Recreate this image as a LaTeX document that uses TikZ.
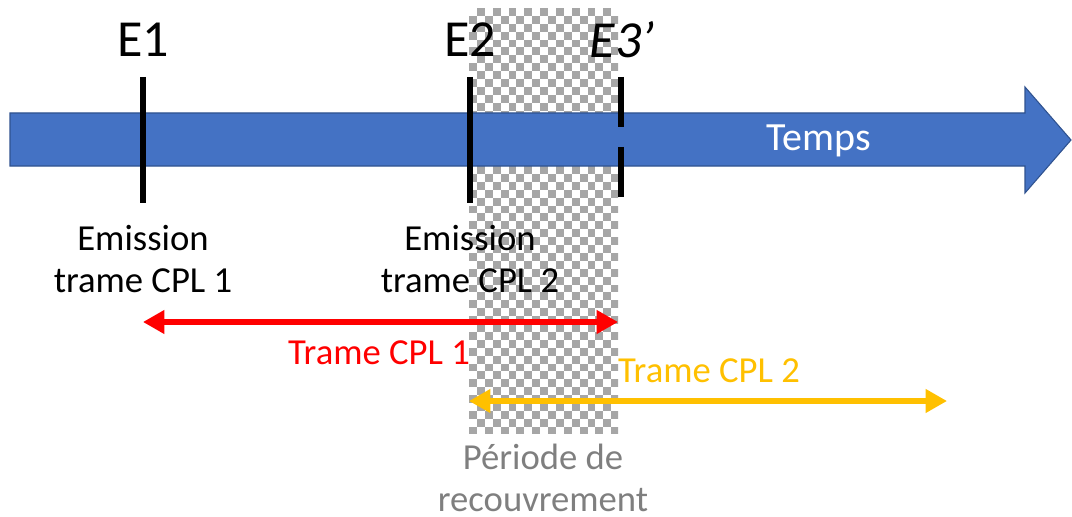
\documentclass[tikz,border=0pt]{standalone}
\usepackage{fontspec}
\setmainfont{Carlito}
\usepackage{tikz}
\usetikzlibrary{arrows.meta, positioning, calc}
\usepackage{xcolor}
\definecolor{timeblue}{HTML}{4472C4}
\definecolor{timeborder}{HTML}{2F528F}
\definecolor{trameone}{HTML}{FF0000}
\definecolor{trametwo}{HTML}{FFC000}
\definecolor{checkgray}{HTML}{A6A6A6}
\definecolor{overlapgray}{HTML}{7F7F7F}

\tikzset{
  marker/.style={line width=4.2pt},
  evlabel/.style={font=\fontsize{39}{42}\selectfont, inner sep=0pt},
  txt/.style={font=\fontsize{27.5}{31.5}\selectfont, align=center, inner sep=0pt},
  span/.style={line width=3.8pt, {Triangle[length=16pt,width=17pt]}-{Triangle[length=16pt,width=17pt]}}
}

\begin{document}
\begin{tikzpicture}[x=0.75pt, y=-0.75pt]
  \useasboundingbox (0,0) rectangle (1072,517);

  % zone de recouvrement (damier)
  \begin{scope}
    \clip (469,8) rectangle (618,433);
    \fill[white] (469,8) rectangle (618,433);
    \foreach \i in {0,...,18} {
      \foreach \j in {0,...,54} {
        \pgfmathtruncatemacro{\chk}{mod(\i+\j,2)}
        \ifnum\chk=1 \fill[checkgray] ({469+\i*7.9},{8+\j*7.9}) rectangle +(7.9,7.9); \fi
      }
    }
  \end{scope}

  % axe du temps
  \draw[fill=timeblue, draw=timeborder, line width=0.8pt]
    (10,113) -- (1025,113) -- (1025,87) -- (1071,140) -- (1025,193) -- (1025,166) -- (10,166) -- cycle;
  \node[txt, text=white, font=\fontsize{30}{31.5}\selectfont] (temps) at (819,141) {Temps};

  % evenements
  \coordinate (e1top) at (143,77);
  \coordinate (e1bot) at (143,203);
  \coordinate (e2top) at (470,77);
  \coordinate (e2bot) at (470,203);
  \coordinate (e3top) at (621,77);
  \coordinate (e3gapa) at (621,127);
  \coordinate (e3gapb) at (621,147);
  \coordinate (e3bot) at (621,197);
  \draw[marker] (e1top) -- (e1bot);
  \draw[marker] (e2top) -- (e2bot);
  \draw[marker] (e3top) -- (e3gapa);
  \draw[marker] (e3gapb) -- (e3bot);

  \node[evlabel] (e1) at (143,40) {E1};
  \node[evlabel] (e2) at (470,40) {E2};
  \node[evlabel] (e3) at (622,40) {\textit{E3’}};

  \node[txt] (em1) at (143,259) {Emission\\trame CPL 1};
  \node[txt] (em2) at (470,259) {Emission\\trame CPL 2};

  % trames
  \coordinate (t1start) at (143,322);
  \coordinate (t1end) at (618,322);
  \coordinate (t2start) at (469,401);
  \coordinate (t2end) at (947,401);
  \draw[span, trameone] (t1start) -- (t1end);
  \draw[span, trametwo] (t2start) -- (t2end);
  \node[txt, text=trameone] (trame1) at (379,353) {Trame CPL 1};
  \node[txt, text=trametwo] (trame2) at (709,371) {Trame CPL 2};

  \node[txt, text=overlapgray] (recouv) at (543,478) {Période de\\recouvrement};
\end{tikzpicture}
\end{document}
